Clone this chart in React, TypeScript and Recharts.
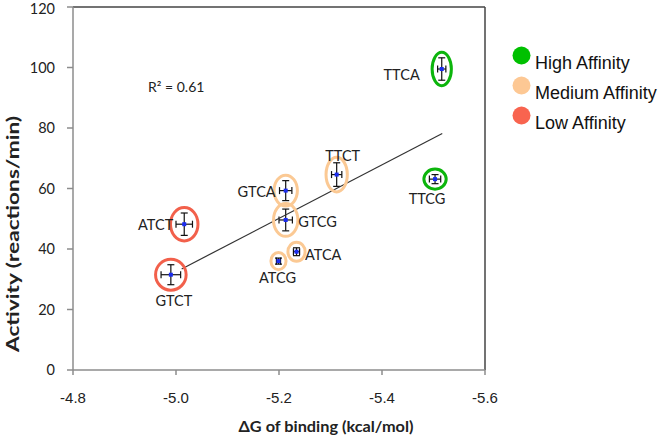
import React from 'react';
import {
  ScatterChart,
  Scatter,
  XAxis,
  YAxis,
  ErrorBar,
  ReferenceLine,
} from 'recharts';

// sequences, binding energy (kcal/mol) and activity (reactions/min)
const names = ['TTCA', 'TTCG', 'TTCT', 'GTCA', 'GTCG', 'ATCT', 'GTCT', 'ATCG', 'ATCA'];
const deltaG = [-5.516, -5.503, -5.312, -5.213, -5.213, -5.016, -4.99, -5.199, -5.234];
const activity = [99.5, 63.1, 64.6, 59.3, 49.6, 48.2, 31.5, 36.0, 39.1];
const errActivity = [3.7, 1.5, 3.9, 3.3, 3.6, 3.7, 3.3, 1.0, 1.3];
const errDeltaG = [0.008, 0.011, 0.01, 0.012, 0.013, 0.016, 0.019, 0.004, 0.006];
const affinity = ['High', 'High', 'Medium', 'Medium', 'Medium', 'Low', 'Low', 'Medium', 'Medium'];

// linear fit endpoints
const trendX = [-5.011, -5.517];
const trendY = [33.4, 78.2];

const xTicks = [-4.8, -5.0, -5.2, -5.4, -5.6];
const yTicks = [0, 20, 40, 60, 80, 100, 120];

const legendLabels = ['High Affinity', 'Medium Affinity', 'Low Affinity'];
const legendKeys = ['High', 'Medium', 'Low'];

const RING: Record<string, string> = {
  High: '#0cb50c',
  Medium: '#fbc994',
  Low: '#f2604b',
};
const LEGEND_FILL: Record<string, string> = {
  High: '#00c000',
  Medium: '#fdc894',
  Low: '#f8644f',
};

// label placement around each point: dx, dy, anchor
const LABEL_POS: Record<string, [number, number, string]> = {
  TTCA: [-22, 5.5, 'end'],
  TTCG: [-8, 19.5, 'middle'],
  TTCT: [6, -19, 'middle'],
  GTCA: [-10, 0.5, 'end'],
  GTCG: [12.5, 1.5, 'start'],
  ATCT: [-11, 0, 'end'],
  GTCT: [3, 25.5, 'middle'],
  ATCG: [-1, 16, 'middle'],
  ATCA: [8.5, 3, 'start'],
};

const W = 666;
const H = 437;
const MARGIN = { top: 7, right: 181, bottom: 0, left: 0 };
const Y_AXIS_W = 73;
const X_AXIS_H = 67;
const PX_PER_X = (W - MARGIN.right - Y_AXIS_W) / 0.8;
const PX_PER_Y = (H - MARGIN.top - X_AXIS_H) / 120;

const points = names.map((name, i) => ({
  name,
  x: deltaG[i],
  y: activity[i],
  ex: errDeltaG[i],
  ey: errActivity[i],
  group: affinity[i],
}));

const trend = trendX.map((x, i) => ({ x, y: trendY[i] }));

const LABEL_FONT = 'Lato, "Open Sans", sans-serif';

function PointShape(props: any) {
  const { cx, cy, payload } = props;
  if (cx == null || cy == null) return null;
  const rx = Math.max(payload.ex * PX_PER_X + 5.5, 6.5);
  const ry = Math.max(payload.ey * PX_PER_Y + 5.5, 6.5);
  const [dx, dy, anchor] = LABEL_POS[payload.name];
  return (
    <g>
      <ellipse cx={cx} cy={cy} rx={rx} ry={ry} fill="none" stroke={RING[payload.group]} strokeWidth={3} />
      <rect x={cx - 2} y={cy - 2} width={4} height={4} fill="#1a2cf0" />
      <text
        x={cx + dx}
        y={cy + dy}
        textAnchor={anchor as any}
        dominantBaseline="central"
        fontFamily={LABEL_FONT}
        fontSize={14.5}
        fill="#222"
      >
        {payload.name}
      </text>
    </g>
  );
}

function YLabel() {
  const cy = 234;
  return (
    <text
      x={13}
      y={cy}
      transform={`rotate(-90, 13, ${cy})`}
      textAnchor="middle"
      dominantBaseline="central"
      fontFamily={LABEL_FONT}
      fontWeight="bold"
      fontSize={16.5}
      textLength={236}
      lengthAdjust="spacingAndGlyphs"
      fill="#222"
    >
      Activity (reactions/min)
    </text>
  );
}

function XLabel() {
  return (
    <text
      x={326}
      y={426}
      textAnchor="middle"
      dominantBaseline="central"
      fontFamily={LABEL_FONT}
      fontWeight="bold"
      fontSize={15}
      textLength={175}
      lengthAdjust="spacingAndGlyphs"
      fill="#222"
    >
      ΔG of binding (kcal/mol)
    </text>
  );
}

export default function App() {
  return (
    <div style={{ position: 'absolute', left: 0, top: 0, width: W, height: H, background: '#fff' }}>
      <ScatterChart width={W} height={H} margin={MARGIN}>
        <XAxis
          type="number"
          dataKey="x"
          domain={[-5.6, -4.8]}
          reversed
          ticks={xTicks}
          tickFormatter={(v: number) => v.toFixed(1)}
          height={X_AXIS_H}
          stroke="#8c8c8c"
          strokeWidth={1.5}
          tickSize={5}
          tickMargin={17}
          tick={{ fill: '#222', fontSize: 15, fontFamily: '"Liberation Sans", Arial, sans-serif' }}
          label={<XLabel />}
        />
        <YAxis
          type="number"
          dataKey="y"
          domain={[0, 120]}
          ticks={yTicks}
          width={Y_AXIS_W}
          stroke="#8c8c8c"
          strokeWidth={1.5}
          tickSize={6}
          tickMargin={12}
          tick={{ fill: '#222', fontSize: 14.5, fontFamily: LABEL_FONT }}
          label={<YLabel />}
        />
        <ReferenceLine y={120} stroke="#444" strokeWidth={1.5} />
        <ReferenceLine x={-5.6} stroke="#444" strokeWidth={1.5} />
        <Scatter
          data={trend}
          line={{ stroke: '#333', strokeWidth: 1.2 }}
          shape={() => null}
          isAnimationActive={false}
        />
        <Scatter data={points} shape={<PointShape />} isAnimationActive={false}>
          <ErrorBar dataKey="ey" direction="y" width={3.5} stroke="#111" strokeWidth={1.2} />
          <ErrorBar dataKey="ex" direction="x" width={3.5} stroke="#111" strokeWidth={1.2} />
        </Scatter>
      </ScatterChart>
      <div
        style={{
          position: 'absolute',
          left: 148,
          top: 78,
          fontFamily: LABEL_FONT,
          fontSize: 14,
          color: '#222',
        }}
      >
        R² = 0.61
      </div>
      <svg style={{ position: 'absolute', left: 500, top: 36 }} width={166} height={100}>
        {legendKeys.map((k, i) => (
          <g key={k}>
            <circle cx={21.5} cy={19.5 + i * 30} r={9} fill={LEGEND_FILL[k]} />
            <text
              x={35}
              y={33 + i * 30}
              fontFamily='"Liberation Sans", Arial, sans-serif'
              fontSize={18}
              fill="#111"
            >
              {legendLabels[i]}
            </text>
          </g>
        ))}
      </svg>
    </div>
  );
}
